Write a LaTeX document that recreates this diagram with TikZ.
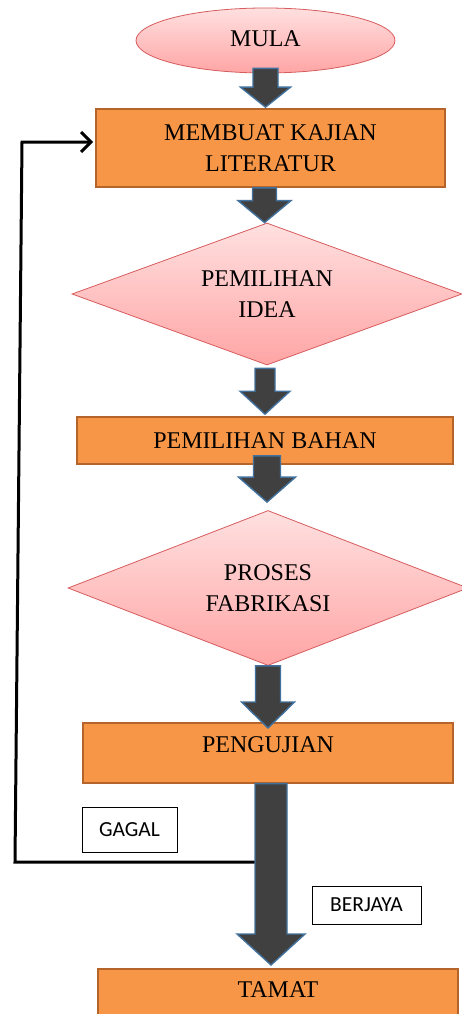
\documentclass[tikz,border=0pt]{standalone}
\usepackage{fontspec}
\setmainfont{Liberation Serif}
\newfontfamily\tagfont{Carlito}
\usetikzlibrary{shapes.geometric,calc,arrows.meta}

\definecolor{boxorange}{RGB}{247,150,70}
\definecolor{boxedge}{RGB}{182,101,42}
\definecolor{pinktop}{RGB}{255,224,224}
\definecolor{pinkbot}{RGB}{255,165,165}
\definecolor{pinkedge}{RGB}{214,92,94}
\definecolor{arrowfill}{RGB}{64,64,64}
\definecolor{arrowedge}{RGB}{65,113,156}

\tikzset{
  stepbox/.style={rectangle, draw=boxedge, fill=boxorange, line width=1.6pt, align=center, inner sep=0pt, font=\fontsize{24}{31}\selectfont},
  decision/.style={diamond, aspect=2.75, draw=pinkedge, top color=pinktop, bottom color=pinkbot, line width=0.8pt, align=center, inner sep=0pt, font=\fontsize{24}{31}\selectfont},
  terminal/.style={ellipse, draw=pinkedge, top color=pinktop, bottom color=pinkbot, line width=0.8pt, inner sep=0pt, font=\fontsize{24}{31}\selectfont},
  tagbox/.style={rectangle, draw=black, fill=white, line width=1pt, inner sep=0pt, font=\tagfont\fontsize{21.5}{24}\selectfont},
  blockarr/.style={draw=arrowedge, fill=arrowfill, line width=1.4pt, line join=miter},
  loopline/.style={line width=3pt, -{Straight Barb[length=10pt,width=20pt]}}
}

% start, tip, shaft half width, head half width, head length
\newcommand{\blockarrow}[5]{%
  \draw[blockarr] let \p1=(#1), \p2=(#2) in
    (\x1-#3pt,\y1) -- (\x1-#3pt,\y2-#5pt) -- (\x1-#4pt,\y2-#5pt) -- (\x1,\y2)
    -- (\x1+#4pt,\y2-#5pt) -- (\x1+#3pt,\y2-#5pt) -- (\x1+#3pt,\y1) -- cycle;}

\begin{document}
\begin{tikzpicture}[x=1pt,y=1pt,yscale=-1,xscale=1]
\useasboundingbox (0,0) rectangle (461,1014);
%Shape: Ellipse
\node (mula) at (265.5,40.5) [terminal, minimum width=259, minimum height=65] {\raisebox{3pt}{MULA}};
%Shape: Rectangle
\node (kajian) at (270.5,148) [stepbox, minimum width=349, minimum height=78] {MEMBUAT KAJIAN\\LITERATUR};
%Shape: Diamond
\node (idea) at (267,294) [decision, minimum width=390, minimum height=142] {PEMILIHAN\\IDEA};
%Shape: Rectangle
\node (bahan) at (265,440.5) [stepbox, minimum width=376, minimum height=47] {PEMILIHAN BAHAN};
%Shape: Diamond
\node (fabrikasi) at (268,588) [decision, minimum width=400, minimum height=155] {PROSES\\FABRIKASI};
%Shape: Rectangle
\node (uji) [stepbox, anchor=north, minimum width=370, inner ysep=14pt, text height=16pt, text depth=16pt] at (268,722) {PENGUJIAN};
%Shape: Rectangle
\node (tamat) [stepbox, anchor=north, minimum width=360, inner ysep=13pt, text height=16pt, text depth=22pt] at (278,968) {TAMAT};
% Text Node
\node (gagal) at (129.5,829.5) [tagbox, minimum width=95, minimum height=45] {GAGAL};
% Text Node
\node (berjaya) at (366.5,905) [tagbox, minimum width=109, minimum height=38] {BERJAYA};

%Straight Lines
\coordinate (gagalpt) at (256,862);
\draw[loopline] (gagalpt) -- (15,862) -- (22,142) -- ($(kajian.west)+(-2,-6)$);

%Block Arrows
\blockarrow{$(mula.south)+(0,-5)$}{$(kajian.north)+(0,-1)$}{12.5}{25}{20}
\blockarrow{$(kajian.south)+(-6,0)$}{idea.north}{12}{26.5}{22}
\blockarrow{$(idea.south)+(-2,3)$}{$(bahan.north)+(0,-2)$}{10}{25}{23}
\blockarrow{$(bahan.south)+(2,-9)$}{$(fabrikasi.north)+(0,-8)$}{13.5}{28.5}{25}
\blockarrow{fabrikasi.south}{$(uji.north)+(0,6)$}{12.5}{26.5}{26}
\blockarrow{$(uji.south)+(3,0)$}{$(tamat.north)+(0,-3)$}{16}{34}{31}
\end{tikzpicture}
\end{document}
